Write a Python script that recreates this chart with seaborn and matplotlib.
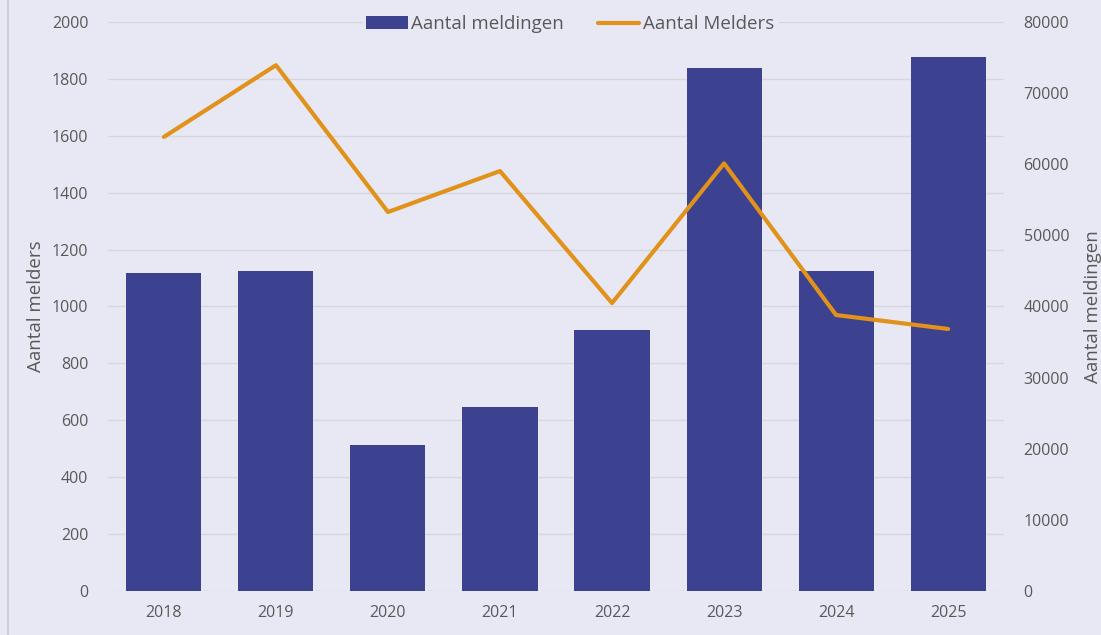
import numpy as np
import pandas as pd
import seaborn as sns
import matplotlib.pyplot as plt
from matplotlib.lines import Line2D
from matplotlib.ticker import MultipleLocator

# data
years = ['2018', '2019', '2020', '2021', '2022', '2023', '2024', '2025']
meldingen = [44700, 44950, 20550, 25900, 36750, 73550, 45000, 75050]
melders = [1596, 1848, 1332, 1476, 1012, 1503, 970, 921]

bg = '#E8E8F4'
bar_color = '#3C4190'
line_color = '#E0921A'
text_color = '#595959'

sns.set_theme(style='white')
plt.rcParams['font.family'] = ['Open Sans', 'DejaVu Sans']

df = pd.DataFrame({'jaar': years, 'meldingen': meldingen, 'melders': melders})

fig = plt.figure(figsize=(11.01, 6.35), dpi=100, facecolor=bg)
ax = fig.add_axes([0.098, 0.0693, 0.814, 0.8961])
ax.set_facecolor(bg)
ax2 = ax.twinx()

# bars on the main axes (right-hand scale), line on the twin (left-hand scale)
sns.barplot(data=df, x='jaar', y='meldingen', ax=ax, color=bar_color,
            width=0.67, saturation=1, linewidth=0, label='Aantal meldingen')
ax.set_ylim(0, 80000)
ax.set_xlim(-0.5, len(years) - 0.5)
ax.yaxis.set_major_locator(MultipleLocator(10000))
# gridlines follow the left scale (every 200 melders = 8000 meldingen)
ax.yaxis.set_minor_locator(MultipleLocator(8000))
ax.yaxis.remove_overlapping_locs = False
ax.set_xlabel('')
ax.grid(which='minor', axis='y', color='#D6D6DD', linewidth=1)
ax.grid(which='major', axis='y', visible=False)
ax.set_axisbelow(True)

sns.lineplot(x=np.arange(len(years)), y=df['melders'], ax=ax2, color=line_color,
             linewidth=3, label='Aantal Melders')
ax2.set_ylim(0, 2000)
ax2.yaxis.set_major_locator(MultipleLocator(200))
ax2.grid(False)

# swap the sides: melders on the left, meldingen on the right
ax.yaxis.tick_right()
ax.yaxis.set_label_position('right')
ax2.yaxis.tick_left()
ax2.yaxis.set_label_position('left')
ax.set_ylabel('Aantal meldingen', fontsize=13.5, color=text_color, labelpad=11)
ax2.set_ylabel('Aantal melders', fontsize=13.5, color=text_color, labelpad=5)

for a in (ax, ax2):
    for s in a.spines.values():
        s.set_visible(False)
    a.tick_params(axis='both', which='both', length=0, labelsize=11.5,
                  labelcolor=text_color, pad=14)
ax.tick_params(axis='x', pad=10)

# combined legend at the top
h1, l1 = ax.get_legend_handles_labels()
h2, l2 = ax2.get_legend_handles_labels()
if ax.get_legend():
    ax.get_legend().remove()
ax2.get_legend().remove()
leg = ax2.legend(h1 + h2, l1 + l2, loc='center', bbox_to_anchor=(0.518, 0.962),
                 bbox_transform=fig.transFigure, ncol=2, frameon=True,
                 fontsize=13.5, handlelength=2.2, handletextpad=0.2,
                 columnspacing=1.8, borderpad=0.2)
leg.get_frame().set_facecolor(bg)
leg.get_frame().set_edgecolor(bg)
leg.get_frame().set_alpha(1)
for t in leg.get_texts():
    t.set_color(text_color)

fig.add_artist(Line2D([0.0075, 0.0075], [0, 1], transform=fig.transFigure,
                      color='#CFCFD8', linewidth=1.5))

fig.savefig('out.png', dpi=100, facecolor=bg)
